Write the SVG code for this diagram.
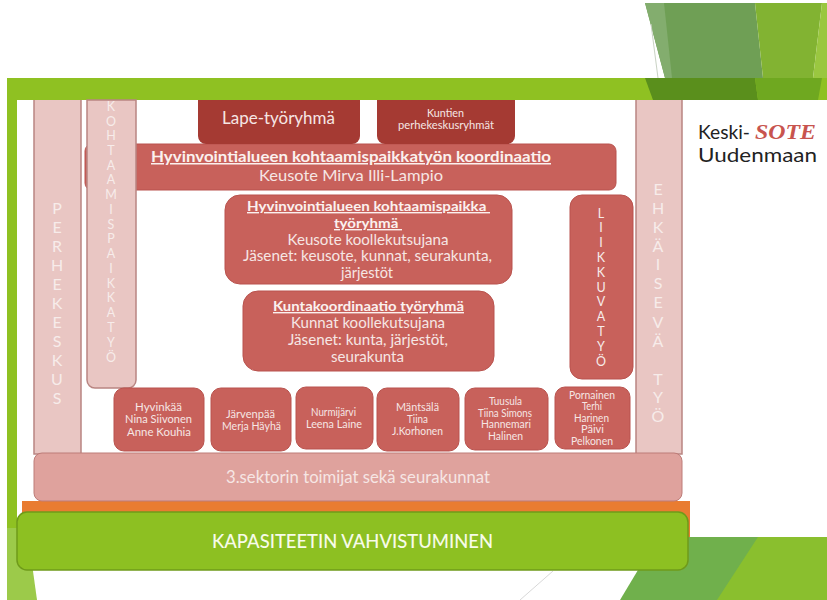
<svg xmlns="http://www.w3.org/2000/svg" width="827" height="600" viewBox="0 0 827 600">
<style>
text{font-family:"Lato","Open Sans","Liberation Sans",sans-serif;fill:#f6e6e4;text-anchor:middle}
.r{fill:#c8615b;stroke:#b9534e;stroke-width:1}
.d{fill:#a53a33}
.p{fill:#e9c6c3;stroke:#b98582;stroke-width:1.5}
.t{font-size:15px}
.h{font-size:15px;font-weight:700;text-decoration:underline;fill:#fbf1ef}
.h2{font-size:14px;font-weight:700;text-decoration:underline;fill:#fbf1ef}
.s{font-size:11px}
.x{font-size:10.500px}
.v{font-size:12.500px;fill:#f7ecea}
.v2{font-size:16px;fill:#f7ecea}
</style>
<rect width="827" height="600" fill="#fff"/>
<g id="background">
<polygon points="645,3 755,3 763,78 665,78" fill="#6f9f55"/>
<polygon points="645,3 664,3 672,78 665,78" fill="#83ad6e"/>
<line x1="651" y1="24" x2="658" y2="78" stroke="#c9d2c4" stroke-width="1"/>
<polygon points="755,3 822,3 813,78 763,78" fill="#82b332"/>
<polygon points="822,3 827,3 827,78 813,78" fill="#9ac740"/>
<rect x="7" y="78" width="820" height="22" fill="#8fc122"/>
<polygon points="645,78 755,78 758,100 653,100" fill="#5a8f1c"/>
<polygon points="755,78 822,78 818,100 758,100" fill="#6fa820"/>
<rect x="7" y="78" width="10" height="450" fill="#8fc122"/>
<polygon points="7,528 27,528 37,600 7,600" fill="#9cca4a"/>
<polygon points="638,570 660,537 827,537 827,600 620,600" fill="#70b04c"/>
<polygon points="758,537 827,537 827,600 717,600" fill="#8abf2e"/>
<line x1="553" y1="571" x2="520" y2="600" stroke="#d8d8d8" stroke-width="1"/>
</g>
<g id="connectors"></g>
<g id="perhekeskus">
<path class="p" d="M34 100V454H81V100"/>
<text class="v2"><tspan x="57" y="214">P</tspan><tspan x="57" y="233">E</tspan><tspan x="57" y="252">R</tspan><tspan x="57" y="271">H</tspan><tspan x="57" y="290">E</tspan><tspan x="57" y="309">K</tspan><tspan x="57" y="328">E</tspan><tspan x="57" y="347">S</tspan><tspan x="57" y="366">K</tspan><tspan x="57" y="385">U</tspan><tspan x="57" y="404">S</tspan></text>
</g>
<g id="koordinaatio">
<rect class="r" x="85" y="144" width="531" height="46" rx="7"/>
<text class="h" x="351" y="162" textLength="400" lengthAdjust="spacingAndGlyphs">Hyvinvointialueen kohtaamispaikkatyön koordinaatio</text>
<text class="t" x="351" y="181" textLength="184" lengthAdjust="spacingAndGlyphs">Keusote Mirva Illi-Lampio</text>
</g>
<g id="kohtaamispaikkatyo">
<path class="p" d="M87 100V380a8 8 0 0 0 8 8H128a8 8 0 0 0 8-8V100Z"/>
<text class="v"><tspan x="111" y="111">K</tspan><tspan x="111" y="126">O</tspan><tspan x="111" y="140">H</tspan><tspan x="111" y="155">T</tspan><tspan x="111" y="170">A</tspan><tspan x="111" y="184">A</tspan><tspan x="111" y="199">M</tspan><tspan x="111" y="214">I</tspan><tspan x="111" y="229">S</tspan><tspan x="111" y="243">P</tspan><tspan x="111" y="258">A</tspan><tspan x="111" y="273">I</tspan><tspan x="111" y="288">K</tspan><tspan x="111" y="302">K</tspan><tspan x="111" y="317">A</tspan><tspan x="111" y="332">T</tspan><tspan x="111" y="347">Y</tspan><tspan x="111" y="362">Ö</tspan></text>
</g>
<g id="lape">
<path class="d" d="M198 100H360V136a8 8 0 0 1-8 8H206a8 8 0 0 1-8-8Z"/>
<text x="278.500" y="124" font-size="16.500" textLength="113" lengthAdjust="spacingAndGlyphs">Lape-työryhmä</text>
</g>
<g id="kuntien">
<path class="d" d="M377 100H515V136a8 8 0 0 1-8 8H385a8 8 0 0 1-8-8Z"/>
<text class="s" x="445.500" y="117" textLength="37" lengthAdjust="spacingAndGlyphs">Kuntien</text>
<text class="s" x="446" y="129" textLength="96" lengthAdjust="spacingAndGlyphs">perhekeskusryhmät</text>
</g>
<g id="tyoryhma">
<rect class="r" x="225" y="195" width="287" height="89" rx="15"/>
<text class="h2" x="368.500" y="211" textLength="243" lengthAdjust="spacingAndGlyphs" xml:space="preserve">Hyvinvointialueen kohtaamispaikka </text>
<text class="h2" x="368" y="228" textLength="68" lengthAdjust="spacingAndGlyphs" xml:space="preserve">työryhmä </text>
<text class="t" x="368" y="245" textLength="161" lengthAdjust="spacingAndGlyphs">Keusote koollekutsujana</text>
<text class="t" x="367.500" y="261" textLength="249" lengthAdjust="spacingAndGlyphs">Jäsenet: keusote, kunnat, seurakunta,</text>
<text class="t" x="367" y="278" textLength="52" lengthAdjust="spacingAndGlyphs">järjestöt</text>
</g>
<g id="kuntakoordinaatio">
<rect class="r" x="243" y="291" width="251" height="80" rx="15"/>
<text class="h2" x="368.500" y="311" textLength="191" lengthAdjust="spacingAndGlyphs">Kuntakoordinaatio työryhmä</text>
<text class="t" x="368" y="328" textLength="154" lengthAdjust="spacingAndGlyphs">Kunnat koollekutsujana</text>
<text class="t" x="368" y="345" textLength="160" lengthAdjust="spacingAndGlyphs">Jäsenet: kunta, järjestöt,</text>
<text class="t" x="367.500" y="362" textLength="73" lengthAdjust="spacingAndGlyphs">seurakunta</text>
</g>
<g id="liikkuvatyo">
<rect class="r" x="570" y="195" width="63" height="184" rx="12"/>
<text class="v"><tspan x="601" y="218">L</tspan><tspan x="601" y="232">I</tspan><tspan x="601" y="247">I</tspan><tspan x="601" y="262">K</tspan><tspan x="601" y="277">K</tspan><tspan x="601" y="292">U</tspan><tspan x="601" y="306">V</tspan><tspan x="601" y="321">A</tspan><tspan x="601" y="336">T</tspan><tspan x="601" y="351">Y</tspan><tspan x="601" y="366">Ö</tspan></text>
</g>
<g id="ehkaiseva">
<path class="p" d="M636 100V454H682V100"/>
<text class="v2"><tspan x="658" y="195">E</tspan><tspan x="658" y="214">H</tspan><tspan x="658" y="233">K</tspan><tspan x="658" y="252">Ä</tspan><tspan x="658" y="270">I</tspan><tspan x="658" y="289">S</tspan><tspan x="658" y="308">E</tspan><tspan x="658" y="328">V</tspan><tspan x="658" y="347">Ä</tspan><tspan x="658" y="385">T</tspan><tspan x="658" y="403">Y</tspan><tspan x="658" y="422">Ö</tspan></text>
</g>
<g id="hyvinkaa">
<rect class="r" x="114" y="388" width="90" height="63" rx="10"/>
<text class="s" x="158.500" y="411" textLength="47" lengthAdjust="spacingAndGlyphs">Hyvinkää</text><text class="s" x="158.500" y="423" textLength="67" lengthAdjust="spacingAndGlyphs">Nina Siivonen</text><text class="s" x="159" y="436" textLength="64" lengthAdjust="spacingAndGlyphs">Anne Kouhia</text>
</g>
<g id="jarvenpaa">
<rect class="r" x="211" y="388" width="80" height="63" rx="10"/>
<text class="s" x="250.500" y="418" textLength="49" lengthAdjust="spacingAndGlyphs">Järvenpää</text><text class="s" x="251.500" y="430" textLength="59" lengthAdjust="spacingAndGlyphs">Merja Häyhä</text>
</g>
<g id="nurmijarvi">
<rect class="r" x="296" y="387" width="77" height="62" rx="10"/>
<text class="s" x="333.500" y="416" textLength="45" lengthAdjust="spacingAndGlyphs">Nurmijärvi</text><text class="s" x="334" y="428" textLength="56" lengthAdjust="spacingAndGlyphs">Leena Laine</text>
</g>
<g id="mantsala">
<rect class="r" x="377" y="388" width="82" height="63" rx="10"/>
<text class="x" x="417.500" y="411" textLength="43" lengthAdjust="spacingAndGlyphs">Mäntsälä</text><text class="x" x="417.500" y="423" textLength="21" lengthAdjust="spacingAndGlyphs">Tiina</text><text class="x" x="417.500" y="435" textLength="51" lengthAdjust="spacingAndGlyphs">J.Korhonen</text>
</g>
<g id="tuusula">
<rect class="r" x="465" y="388" width="83" height="62" rx="10"/>
<text class="x" x="505.500" y="405" textLength="33" lengthAdjust="spacingAndGlyphs">Tuusula</text><text class="x" x="505" y="417" textLength="54" lengthAdjust="spacingAndGlyphs">Tiina Simons</text><text class="x" x="506" y="428" textLength="50" lengthAdjust="spacingAndGlyphs">Hannemari</text><text class="x" x="505.500" y="440" textLength="35" lengthAdjust="spacingAndGlyphs">Halinen</text>
</g>
<g id="pornainen">
<rect class="r" x="555" y="387" width="75" height="62" rx="10"/>
<text class="x" x="592" y="399" textLength="46" lengthAdjust="spacingAndGlyphs">Pornainen</text><text class="x" x="592" y="410" textLength="20" lengthAdjust="spacingAndGlyphs">Terhi</text><text class="x" x="591.500" y="422" textLength="35" lengthAdjust="spacingAndGlyphs">Harinen</text><text class="x" x="592.500" y="433" textLength="23" lengthAdjust="spacingAndGlyphs">Päivi</text><text class="x" x="592" y="445" textLength="42" lengthAdjust="spacingAndGlyphs">Pelkonen</text>
</g>
<g id="orange"><rect x="22" y="501" width="668" height="36" fill="#e97c31"/></g>
<g id="sektori">
<rect x="34" y="453" width="648" height="48" rx="8" fill="#dfa29d" stroke="#bd7c78"/>
<text x="358" y="483" font-size="16.500" textLength="264" lengthAdjust="spacingAndGlyphs">3.sektorin toimijat sekä seurakunnat</text>
</g>
<g id="kapasiteetti">
<rect x="17" y="512" width="671" height="58" rx="10" fill="#8dc022" stroke="#6f9a1a" stroke-width="1.500"/>
<text x="352.500" y="548" font-size="19" font-weight="500" textLength="281" lengthAdjust="spacingAndGlyphs" style="fill:#f7fbe9">KAPASITEETIN VAHVISTUMINEN</text>
</g>
<g id="logo">
<text x="698" y="139" font-size="18.500" textLength="52" lengthAdjust="spacingAndGlyphs" style="text-anchor:start;fill:#222">Keski-</text>
<text x="755" y="139" font-size="22" font-weight="700" font-style="italic" textLength="61" lengthAdjust="spacingAndGlyphs" style="text-anchor:start;fill:#c8544e;font-family:'Liberation Serif',serif">SOTE</text>
<text x="698" y="162" font-size="19" textLength="119" lengthAdjust="spacingAndGlyphs" style="text-anchor:start;fill:#222">Uudenmaan</text>
</g>
</svg>
